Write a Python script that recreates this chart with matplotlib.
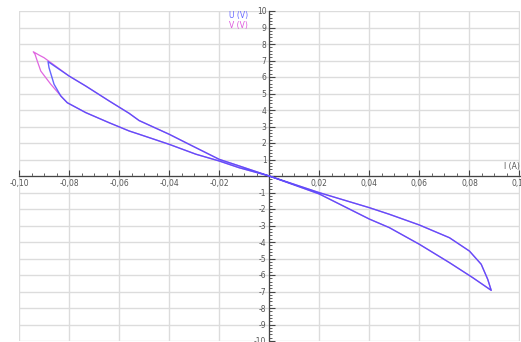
import numpy as np
import matplotlib; matplotlib.use("Agg")
import matplotlib.pyplot as plt
from matplotlib.ticker import MultipleLocator, FuncFormatter

# U (V) : boucle mesuree, parcours origine -> pointe bas-droite -> origine -> pointe haut-gauche -> origine
u_i = [0.0, 0.020, 0.040, 0.048, 0.060, 0.072, 0.080, 0.0847, 0.0873, 0.0887,
       0.0813, 0.072, 0.060, 0.048, 0.040, 0.020, 0.0,
       -0.012, -0.020, -0.0307, -0.040, -0.052, -0.056, -0.064, -0.0733, -0.080, -0.0884,
       -0.088, -0.086, -0.0833, -0.0807, -0.0733, -0.064, -0.056, -0.052, -0.040, -0.0293, -0.020, -0.012, 0.0]
u_v = [0.0, -1.01, -1.92, -2.32, -2.97, -3.74, -4.55, -5.35, -6.26, -6.93,
       -6.16, -5.25, -4.14, -3.13, -2.61, -1.09, 0.0,
       0.61, 1.01, 1.82, 2.53, 3.36, 3.80, 4.55, 5.45, 6.06, 6.93,
       6.56, 5.56, 4.85, 4.44, 3.84, 3.23, 2.73, 2.53, 1.92, 1.32, 0.91, 0.50, 0.0]

# V (V) : meme boucle, pointe haut-gauche plus longue
v_i = [0.0, 0.020, 0.040, 0.048, 0.060, 0.072, 0.080, 0.0847, 0.0873, 0.0887,
       0.0813, 0.072, 0.060, 0.048, 0.040, 0.020, 0.0,
       -0.012, -0.020, -0.0307, -0.040, -0.052, -0.056, -0.064, -0.0733, -0.080, -0.086,
       -0.090, -0.092, -0.0943, -0.0936, -0.0927, -0.0913, -0.0873, -0.0827, -0.0807,
       -0.0733, -0.064, -0.056, -0.052, -0.040, -0.0293, -0.020, -0.012, 0.0]
v_v = [0.0, -1.01, -1.92, -2.32, -2.97, -3.74, -4.55, -5.35, -6.26, -6.93,
       -6.16, -5.25, -4.14, -3.13, -2.61, -1.09, 0.0,
       0.61, 1.01, 1.82, 2.53, 3.36, 3.80, 4.55, 5.45, 6.06, 6.73,
       7.17, 7.33, 7.53, 7.38, 6.97, 6.36, 5.56, 4.75, 4.44,
       3.84, 3.23, 2.73, 2.53, 1.92, 1.32, 0.91, 0.50, 0.0]

fig = plt.figure(figsize=(5.21, 3.42), dpi=100)
ax = fig.add_axes([19/521, 1/342, 501/521, 330/342])
ax.set_xlim(-0.10, 0.1002); ax.set_ylim(-10, 10)

ax.plot(v_i, v_v, color="#e066e0", lw=0.9, zorder=3)
ax.plot(u_i, u_v, color="#4a4aff", lw=1.0, alpha=0.85, zorder=4, solid_joinstyle="round")

for s in ["top", "right"]: ax.spines[s].set_visible(False)
ax.spines["left"].set_position(("data", 0)); ax.spines["bottom"].set_position(("data", 0))
for s in ["left", "bottom"]: ax.spines[s].set_color("#444"); ax.spines[s].set_linewidth(0.9)

ax.xaxis.set_major_locator(MultipleLocator(0.02)); ax.xaxis.set_minor_locator(MultipleLocator(0.005))
ax.yaxis.set_major_locator(MultipleLocator(1)); ax.yaxis.set_minor_locator(MultipleLocator(0.2))
ax.xaxis.set_major_formatter(FuncFormatter(lambda v, p: "" if abs(v) < 1e-9 else f"{v:.2f}".replace(".", ",")))
ax.yaxis.set_major_formatter(FuncFormatter(lambda v, p: "" if abs(v) < 1e-9 else f"{v:.0f}"))
ax.tick_params(which="both", direction="in", colors="#444", labelcolor="#555", labelsize=5.5, pad=2)
ax.tick_params(which="major", length=4, width=0.8)
ax.tick_params(which="minor", length=2.5, width=0.6)

ax.grid(True, which="major", color="#dcdcdc", lw=1.0, zorder=0)
ax.set_axisbelow(True)

ax.text(-0.0085, 9.75, "U (V)", color="#6666ff", fontsize=5.5, ha="right", va="center")
ax.text(-0.0085, 9.1, "V (V)", color="#dd55dd", fontsize=5.5, ha="right", va="center")
ax.text(0.1, 0.6, "I (A)", color="#555", fontsize=5.5, ha="right", va="center")

fig.savefig("out.png", dpi=100)
